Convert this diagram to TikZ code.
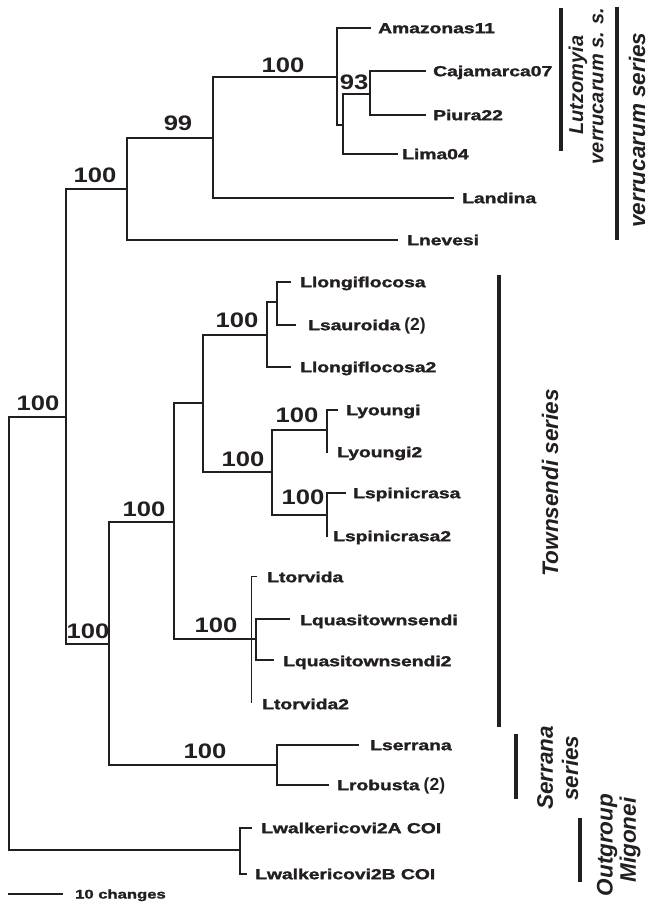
\documentclass[tikz,border=0pt]{standalone}
\usepackage{fontspec}
\setmainfont{Liberation Sans}
\newfontfamily\heavyfam{Liberation Sans}[BoldFeatures={FakeBold=1.6}]
\usepackage{graphicx}
\definecolor{ink}{RGB}{35,31,32}
\newcommand{\tipfont}{\heavyfam\bfseries\fontsize{14.5}{15}\selectfont}
\newcommand{\bsfont}{\bfseries\fontsize{21}{22}\selectfont}
\newcommand{\grpfont}{\bfseries\itshape\fontsize{22.5}{23}\selectfont}
\newcommand{\grpsmall}{\bfseries\itshape\fontsize{20}{21}\selectfont}
\newcommand{\wide}[1]{\scalebox{1.33}[1]{#1}}
\newcommand{\bsw}[1]{\scalebox{1.22}[1]{#1}}
\newcommand{\paren}[1]{{\normalfont\bfseries\fontsize{17.5}{18}\selectfont #1}}
\begin{document}
\begin{tikzpicture}[x=1pt,y=-1pt,
  br/.style={line width=1.9pt, color=ink, line cap=rect},
  thinbr/.style={line width=0.9pt, color=ink},
  bar/.style={line width=4.5pt, color=ink},
  tip/.style={anchor=base west, inner sep=0pt, font=\tipfont, text=ink},
  bs/.style={anchor=base, inner sep=0pt, font=\bsfont, text=ink},
  grp/.style={rotate=90, inner sep=0pt, font=\grpfont, text=ink},
  grps/.style={rotate=90, inner sep=0pt, font=\grpsmall, text=ink}]
\useasboundingbox (0,0) rectangle (649,902);

% internal nodes (x, attach y)
\coordinate (R)  at (9,633);
\coordinate (A)  at (66,417);
\coordinate (OG) at (240,850);
\coordinate (V)  at (127,189);
\coordinate (T)  at (109,644);
\coordinate (V2) at (213,138);
\coordinate (V3) at (337,77);
\coordinate (V4) at (343,125);
\coordinate (V5) at (370,94);
\coordinate (T1) at (174,522);
\coordinate (S)  at (277,765);
\coordinate (T2) at (203,403);
\coordinate (Qp) at (251,639);
\coordinate (Q2) at (256,639);
\coordinate (T3) at (267,335);
\coordinate (T4) at (272,472);
\coordinate (T5) at (277,302);
\coordinate (T6) at (327,430);
\coordinate (T7) at (327,515);

% tip ends
\coordinate (eAmaz) at (370,28);
\coordinate (eCaja) at (425,71);
\coordinate (ePiur) at (425,115);
\coordinate (eLima) at (397,154);
\coordinate (eLand) at (453,198);
\coordinate (eNeve) at (397,240);
\coordinate (eLon1) at (290,282);
\coordinate (eSaur) at (295,325);
\coordinate (eLon2) at (290,367);
\coordinate (eYou1) at (337,410);
\coordinate (eYou2) at (327,452);
\coordinate (eSpi1) at (345,493);
\coordinate (eSpi2) at (327,536);
\coordinate (eTor1) at (257,576);
\coordinate (eTor2) at (251,703);
\coordinate (eQua1) at (289,619);
\coordinate (eQua2) at (273,660);
\coordinate (eSerr) at (358,745);
\coordinate (eRobu) at (328,785);
\coordinate (eWalA) at (251,828);
\coordinate (eWalB) at (246,874);

% branches
\draw[br] (R) |- (A);
\draw[br] (R) |- (OG);
\draw[br] (A) |- (V);
\draw[br] (A) |- (T);
\draw[br] (V) |- (V2);
\draw[br] (V) |- (eNeve);
\draw[br] (V2) |- (V3);
\draw[br] (V2) |- (eLand);
\draw[br] (V3) |- (eAmaz);
\draw[br] (V3) |- (V4);
\draw[br] (V4) |- (V5);
\draw[br] (V4) |- (eLima);
\draw[br] (V5) |- (eCaja);
\draw[br] (V5) |- (ePiur);
\draw[br] (T) |- (T1);
\draw[br] (T) |- (S);
\draw[br] (T1) |- (T2);
\draw[br] (T1) |- (Q2);
\draw[br] (T2) |- (T3);
\draw[br] (T2) |- (T4);
\draw[br] (T3) |- (T5);
\draw[br] (T3) |- (eLon2);
\draw[br] (T5) |- (eLon1);
\draw[br] (T5) |- (eSaur);
\draw[br] (T4) |- (T6);
\draw[br] (T4) |- (T7);
\draw[br] (T6) |- (eYou1);
\draw[br] (T6) |- (eYou2);
\draw[br] (T7) |- (eSpi1);
\draw[br] (T7) |- (eSpi2);
\draw[thinbr] (Qp) |- (eTor1);
\draw[thinbr] (Qp) -- (eTor2);
\draw[br] (Q2) |- (eQua1);
\draw[br] (Q2) |- (eQua2);
\draw[br] (S) |- (eSerr);
\draw[br] (S) |- (eRobu);
\draw[br] (OG) |- (eWalA);
\draw[br] (OG) |- (eWalB);

% tip labels
\node[tip] (lAmaz) at (378,33.2) {\wide{Amazonas11}};
\node[tip] (lCaja) at (433,76.2) {\wide{Cajamarca07}};
\node[tip] (lPiur) at (433,120.2) {\wide{Piura22}};
\node[tip] (lLima) at (402,159.2) {\wide{Lima04}};
\node[tip] (lLand) at (462,203.2) {\wide{Landina}};
\node[tip] (lNeve) at (407,245.2) {\wide{Lnevesi}};
\node[tip] (lLon1) at (300,287.2) {\wide{Llongiflocosa}};
\node[tip] (lSaur) at (308,330.2) {\wide{Lsauroida} \paren{(2)}};
\node[tip] (lLon2) at (300,372.2) {\wide{Llongiflocosa2}};
\node[tip] (lYou1) at (346,415.2) {\wide{Lyoungi}};
\node[tip] (lYou2) at (337,457.2) {\wide{Lyoungi2}};
\node[tip] (lSpi1) at (353,498.2) {\wide{Lspinicrasa}};
\node[tip] (lSpi2) at (333,541.2) {\wide{Lspinicrasa2}};
\node[tip] (lTor1) at (267,582.2) {\wide{Ltorvida}};
\node[tip] (lQua1) at (300,625.2) {\wide{Lquasitownsendi}};
\node[tip] (lQua2) at (283,666.2) {\wide{Lquasitownsendi2}};
\node[tip] (lTor2) at (262,709.2) {\wide{Ltorvida2}};
\node[tip] (lSerr) at (370,750.2) {\wide{Lserrana}};
\node[tip] (lRobu) at (337,790.2) {\wide{Lrobusta} \paren{(2)}};
\node[tip] (lWalA) at (261,833.2) {\wide{Lwalkericovi2A COI}};
\node[tip] (lWalB) at (255,879.2) {\wide{Lwalkericovi2B COI}};

% bootstrap values
\node[bs] (b1)  at (38,410.5)  {\bsw{100}};
\node[bs] (b2)  at (95,182.5)  {\bsw{100}};
\node[bs] (b3)  at (178,130.5) {\bsw{99}};
\node[bs] (b4)  at (283,72.5)  {\bsw{100}};
\node[bs] (b5)  at (354,89.5)  {\bsw{93}};
\node[bs] (b6)  at (88,638.5)  {\bsw{100}};
\node[bs] (b7)  at (144,516.5) {\bsw{100}};
\node[bs] (b8)  at (237,327.5) {\bsw{100}};
\node[bs] (b9)  at (243,466.5) {\bsw{100}};
\node[bs] (b10) at (297,422.5) {\bsw{100}};
\node[bs] (b11) at (303,504.5) {\bsw{100}};
\node[bs] (b12) at (216,632.5) {\bsw{100}};
\node[bs] (b13) at (205,758.5) {\bsw{100}};

% group bars
\draw[bar] (561,8) -- (561,151);
\draw[bar] (617,7) -- (617,240);
\draw[bar] (499,275) -- (499,727);
\draw[bar] (516,734) -- (516,799);
\draw[bar] (580,818) -- (580,882);

% group labels
\node[grps] (gLut) at (578,85) {Lutzomyia};
\node[grps] (gVss) at (598,86) {verrucarum s. s.};
\node[grp] (gVer) at (637,130) {verrucarum series};
\node[grp] (gTow) at (550,483) {Townsendi series};
\node[grp] (gSer1) at (545,768) {Serrana};
\node[grp] (gSer2) at (570,768) {series};
\node[grp] (gOut1) at (607,845) {Outgroup};
\node[grp] (gOut2) at (630,840) {Migonei};

% scale bar
\coordinate (sb1) at (8,894);
\coordinate (sb2) at (63,894);
\draw[br, line width=1.6pt, line cap=butt] (sb1) -- (sb2);
\node[tip, font=\heavyfam\bfseries\fontsize{12.5}{13}\selectfont] (lSb) at (75,898.5) {\wide{10 changes}};
\end{tikzpicture}
\end{document}
